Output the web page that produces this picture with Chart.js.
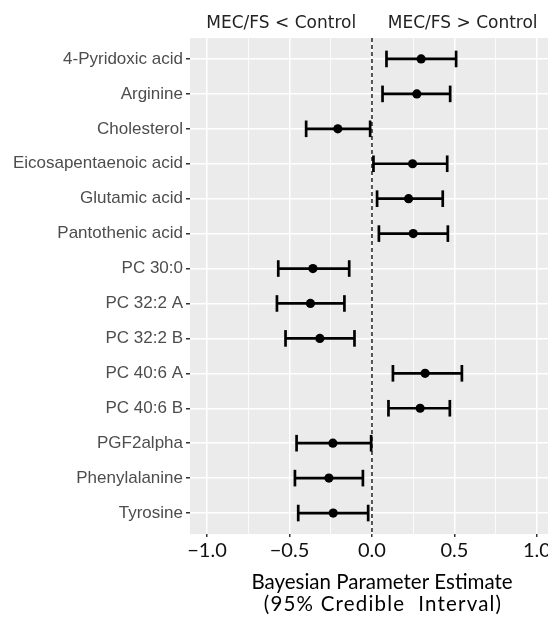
<!DOCTYPE html>
<html>
<head>
<meta charset="utf-8">
<script src="https://cdn.jsdelivr.net/npm/chart.js@4"></script>
<style>
html,body{margin:0;padding:0;background:#fff;}
canvas{display:block;}
</style>
</head>
<body>
<canvas id="c" width="548" height="619"></canvas>
<script>
const categories = ["4-Pyridoxic acid","Arginine","Cholesterol","Eicosapentaenoic acid","Glutamic acid","Pantothenic acid","PC 30:0","PC 32:2 A","PC 32:2 B","PC 40:6 A","PC 40:6 B","PGF2alpha","Phenylalanine","Tyrosine"];
const estimate = [0.298,0.272,-0.207,0.246,0.222,0.250,-0.358,-0.373,-0.316,0.322,0.292,-0.237,-0.261,-0.235];
const lower    = [0.088,0.064,-0.399,0.009,0.031,0.042,-0.568,-0.576,-0.524,0.127,0.100,-0.457,-0.467,-0.447];
const upper    = [0.510,0.474,-0.011,0.456,0.429,0.460,-0.138,-0.167,-0.106,0.545,0.472,-0.005,-0.055,-0.023];
const xMajorTicks = [-1.0,-0.5,0.0,0.5,1.0];
const xMajorLabels = ["\u22121.0","\u22120.5","0.0","0.5","1.0"];
const xMinorTicks = [-0.75,-0.25,0.25,0.75];
const topLabelPos = [-0.55,0.55];
const topLabels = ["MEC/FS < Control","MEC/FS > Control"];
const xTitleLines = ["Bayesian Parameter Estimate","(95% Credible  Interval)"];
const refLine = 0;

const X_MIN = -1.103, X_MAX = 1.067;
const Y_MIN = 0.4, Y_MAX = categories.length + 0.6;

const rowY = i => i + 1;

const datasets = [];
datasets.push({
  label: 'estimate',
  data: estimate.map((v,i)=>({x:v,y:rowY(i)})),
  pointRadius: 4.6, pointBackgroundColor:'#000', pointBorderWidth:0, showLine:false
});
datasets.push({
  label: 'caps',
  data: lower.map((v,i)=>({x:v,y:rowY(i)})).concat(upper.map((v,i)=>({x:v,y:rowY(i)}))),
  pointStyle:'line', rotation:90, pointRadius:8.3, pointBorderColor:'#000', pointBorderWidth:2.7, showLine:false
});
categories.forEach((c,i)=>{
  datasets.push({
    label: 'ci-'+i,
    data: [{x:lower[i],y:rowY(i)},{x:upper[i],y:rowY(i)}],
    showLine:true, borderColor:'#000', borderWidth:2.7, pointRadius:0, borderCapStyle:'butt'
  });
});
datasets.push({
  label: 'zero',
  data: [{x:refLine,y:Y_MIN},{x:refLine,y:Y_MAX}],
  showLine:true, borderColor:'#000', borderWidth:1.3, borderDash:[4,3], pointRadius:0
});

const bgPlugin = {
  id:'bg',
  beforeDraw(chart){
    const {ctx, chartArea:a} = chart;
    ctx.save();
    ctx.fillStyle = '#EBEBEB';
    ctx.fillRect(a.left, a.top, a.right-a.left, a.bottom-a.top);
    ctx.restore();
  }
};
const titlePlugin = {
  id:'xtitle',
  afterDraw(chart){
    const {ctx} = chart;
    ctx.save();
    ctx.fillStyle = '#000';
    ctx.font = '20.5px Lato';
    ctx.textAlign = 'center';
    ctx.textBaseline = 'alphabetic';
    ctx.fillText(xTitleLines[0], 382, 588.5);
    ctx.letterSpacing = '1.2px';
    ctx.fillText(xTitleLines[1], 383, 611);
    ctx.restore();
  }
};

new Chart(document.getElementById('c'), {
  type:'scatter',
  data:{datasets},
  plugins:[bgPlugin, titlePlugin],
  options:{
    responsive:false, animation:false,
    layout:{padding:0, autoPadding:false},
    plugins:{legend:{display:false}, tooltip:{enabled:false}},
    scales:{
      x:{
        type:'linear', position:'bottom', min:X_MIN, max:X_MAX,
        border:{display:false},
        grid:{
          color:'#FFFFFF',
          lineWidth: ctx => (ctx.tick && xMajorTicks.includes(ctx.tick.value)) ? 1.5 : 0.8,
          tickColor: ctx => (ctx.tick && xMajorTicks.includes(ctx.tick.value)) ? '#333333' : 'rgba(0,0,0,0)',
          tickLength:3, drawTicks:true
        },
        afterBuildTicks: s => { s.ticks = xMajorTicks.concat(xMinorTicks).sort((a,b)=>a-b).map(v=>({value:v})); },
        ticks:{
          autoSkip:false, maxRotation:0, padding:2, color:'#111',
          font:{family:'Lato', size:20},
          callback: v => { const k = xMajorTicks.indexOf(v); return k>=0 ? xMajorLabels[k] : ''; }
        },
        afterFit: s => { s.height = 85; s.paddingLeft = 0; s.paddingRight = 0; }
      },
      x2:{
        type:'linear', position:'top', min:X_MIN, max:X_MAX,
        border:{display:false},
        grid:{display:false, drawTicks:false},
        afterBuildTicks: s => { s.ticks = topLabelPos.map(v=>({value:v})); },
        ticks:{
          autoSkip:false, maxRotation:0, padding:4, color:'#222',
          font:{family:'DejaVu Sans', size:17},
          callback: v => { const k = topLabelPos.indexOf(v); return k>=0 ? topLabels[k] : ''; }
        },
        afterFit: s => { s.height = 38; s.paddingLeft = 0; s.paddingRight = 0; }
      },
      y:{
        type:'linear', reverse:true, min:Y_MIN, max:Y_MAX,
        border:{display:false},
        grid:{color:'#FFFFFF', lineWidth:1.5, tickColor:'#333333', tickLength:4},
        afterBuildTicks: s => { s.ticks = categories.map((c,i)=>({value:rowY(i)})); },
        ticks:{
          autoSkip:false, padding:3, color:'#4D4D4D',
          font:{family:'Liberation Sans', size:17},
          callback: v => categories[v-1] || ''
        },
        afterFit: s => { s.width = 190; }
      }
    }
  }
});
</script>
</body>
</html>
